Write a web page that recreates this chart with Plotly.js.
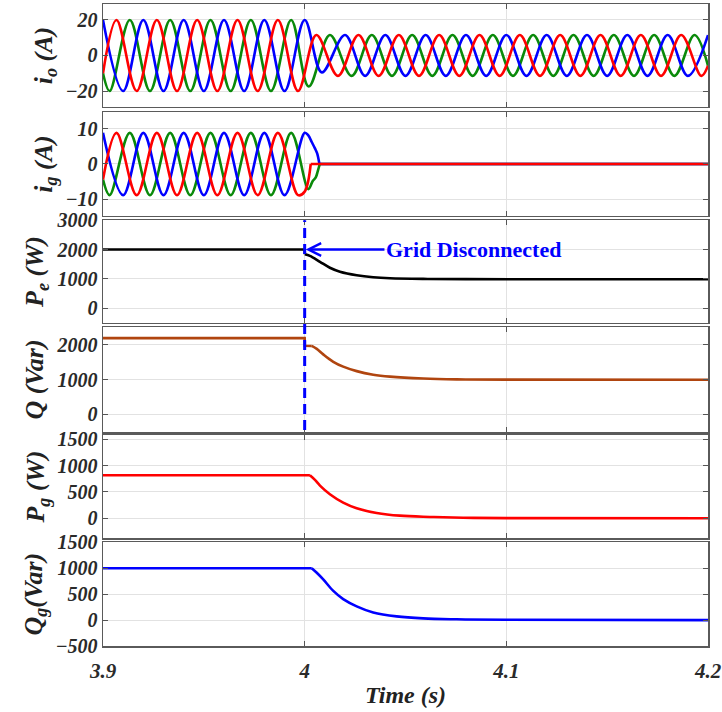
<!DOCTYPE html>
<html>
<head>
<meta charset="utf-8">
<script src="https://cdn.plot.ly/plotly-3.0.1.min.js"></script>
<style>html,body{margin:0;padding:0;background:#fff;}#chart{width:722px;height:712px;}</style>
</head>
<body>
<div id="chart"></div>
<script>
// ---------- DATA ----------
// Panel 1: inverter output currents i_o (extrema of each phase)
const ioBlueT = [3.90,3.91,3.92,3.93,3.94,3.95,3.96,3.97,3.98,3.99,4.00,4.0085,4.02,4.03,4.04,4.05,4.06,4.07,4.08,4.09,4.10,4.11,4.12,4.13,4.14,4.15,4.16,4.17,4.18,4.19,4.20];
const ioBlueV = [20,-20,20,-20,20,-20,20,-20,20,-20,20,-9.5,11.5,-11.5,11.5,-11.5,11.5,-11.5,11.5,-11.5,11.5,-11.5,11.5,-11.5,11.5,-11.5,11.5,-11.5,11.5,-11.5,11.5];
const ioRedT = [3.9000,3.9067,3.9167,3.9267,3.9367,3.9467,3.9567,3.9667,3.9767,3.9867,3.9967,4.0058,4.0165,4.0267,4.0367,4.0467,4.0567,4.0667,4.0767,4.0867,4.0967,4.1067,4.1167,4.1267,4.1367,4.1467,4.1567,4.1667,4.1767,4.1867,4.1967,4.2000];
const ioRedV = [-10,20,-20,20,-20,20,-20,20,-20,20,-20,11.5,-11.5,11.5,-11.5,11.5,-11.5,11.5,-11.5,11.5,-11.5,11.5,-11.5,11.5,-11.5,11.5,-11.5,11.5,-11.5,11.5,-11.5,-5.75];
const ioGreenT = [3.9000,3.9033,3.9133,3.9233,3.9333,3.9433,3.9533,3.9633,3.9733,3.9833,3.9933,4.0020,4.0125,4.0233,4.0333,4.0433,4.0533,4.0633,4.0733,4.0833,4.0933,4.1033,4.1133,4.1233,4.1333,4.1433,4.1533,4.1633,4.1733,4.1833,4.1933,4.2000];
const ioGreenV = [-10,-20,20,-20,20,-20,20,-20,20,-20,20,-17.5,11.5,-11.5,11.5,-11.5,11.5,-11.5,11.5,-11.5,11.5,-11.5,11.5,-11.5,11.5,-11.5,11.5,-11.5,11.5,-11.5,11.5,-5.75];

// Panel 2: grid currents i_g
const igBlueT = [3.90,3.91,3.92,3.93,3.94,3.95,3.96,3.97,3.98,3.99,4.00,4.0018,4.0035,4.0051,4.0062,4.0073];
const igBlueV = [8.8,-8.8,8.8,-8.8,8.8,-8.8,8.8,-8.8,8.8,-8.8,8.8,8.1,6.2,4.4,3.0,0];
const igRedT = [3.9000,3.9067,3.9167,3.9267,3.9367,3.9467,3.9567,3.9667,3.9767,3.9867,3.9967,4.0000,4.0030];
const igRedV = [-4.4,8.8,-8.8,8.8,-8.8,8.8,-8.8,8.8,-8.8,8.8,-8.8,-7.8,0];
const igGreenT = [3.9000,3.9033,3.9133,3.9233,3.9333,3.9433,3.9533,3.9633,3.9733,3.9833,3.9933,4.0018,4.0040,4.0055,4.0065,4.0075];
const igGreenV = [-4.4,-8.8,8.8,-8.8,8.8,-8.8,8.8,-8.8,8.8,-8.8,8.8,-7.1,-4.8,-3.8,-2.0,0];
const igBlueTailT = [4.0073,4.2];  const igBlueTailV = [0,0];
const igGreenTailT = [4.0075,4.2]; const igGreenTailV = [0,0];
const igRedTailT = [4.0030,4.2];   const igRedTailV = [0,0];

// Panel 3: P_e (W) — steady part with the step, then the decay
const peFlatT = [3.90,4.00,4.0001];
const peFlatV = [2000,2000,1841];
const peDecayT = [4.0001,4.0026,4.0076,4.0125,4.0175,4.0258,4.0340,4.0423,4.0588,4.0800,4.1200,4.2000];
const peDecayV = [1841,1784,1581,1378,1243,1122,1054,1020,997,988,985,985];

// Panel 4: Q (Var)
const qFlatT = [3.90,4.00,4.0001,4.0035];
const qFlatV = [2190,2190,1972,1965];
const qDecayT = [4.0035,4.0060,4.0092,4.0142,4.0191,4.0258,4.0340,4.0423,4.0588,4.0754,4.1000,4.2000];
const qDecayV = [1965,1880,1722,1509,1370,1241,1139,1083,1028,1005,996,995];

// Panel 5: P_g (W)
const pgFlatT = [3.90,4.0026];
const pgFlatV = [815,815];
const pgDecayT = [4.0026,4.0051,4.0076,4.0125,4.0191,4.0258,4.0357,4.0472,4.0621,4.0786,4.1000,4.2000];
const pgDecayV = [815,728,620,456,297,190,101,49,25,10,3,0];

// Panel 6: Q_g (Var)
const qgFlatT = [3.90,4.0035];
const qgFlatV = [1000,1000];
const qgDecayT = [4.0035,4.0060,4.0092,4.0142,4.0191,4.0258,4.0340,4.0456,4.0588,4.0754,4.1000,4.2000];
const qgDecayV = [1000,912,785,563,405,265,147,71,32,15,5,0];

// Axis ticks / labels
const xTicks = [3.9, 4, 4.1, 4.2];
const xTickText = ['3.9', '4', '4.1', '4.2'];
const yTitles = ['i<sub>o</sub> (A)', 'i<sub>g</sub> (A)', 'P<sub>e</sub> (W)', 'Q (Var)', 'P<sub>g</sub> (W)', 'Q<sub>g</sub>(Var)'];
const yTicks = [[-20,0,20],[-10,0,10],[0,1000,2000,3000],[0,1000,2000],[0,500,1000,1500],[-500,0,500,1000,1500]];
const yRanges = [[-29,29],[-14.6,14.6],[-500,3000],[-500,2500],[-380,1580],[-500,1500]];
const annText = 'Grid Disconnected';
const xTitle = 'Time (s)';

// ---------- STYLE ----------
const FF = '"Liberation Serif", "Times New Roman", serif';
const BLUE = '#0000ff', RED = '#ff0000', GREEN = '#0a8a0a', BROWN = '#b0450f';
const LW = 2.6;
const domains = [[0.8396,1],[0.6703,0.8313],[0.5036,0.6631],[0.3338,0.4964],[0.1678,0.3287],[0,0.1615]];

function tr(x, y, color, ax, shape) {
  return {x: x, y: y, type: 'scatter', mode: 'lines',
    line: {color: color, width: LW, shape: shape || 'linear', smoothing: 1},
    xaxis: 'x' + (ax === 1 ? '' : ax), yaxis: 'y' + (ax === 1 ? '' : ax),
    hoverinfo: 'skip', showlegend: false};
}

const data = [
  tr(ioGreenT, ioGreenV, GREEN, 1, 'spline'),
  tr(ioBlueT, ioBlueV, BLUE, 1, 'spline'),
  tr(ioRedT, ioRedV, RED, 1, 'spline'),
  tr(igGreenTailT, igGreenTailV, GREEN, 2),
  tr(igBlueTailT, igBlueTailV, BLUE, 2),
  tr(igGreenT, igGreenV, GREEN, 2, 'spline'),
  tr(igBlueT, igBlueV, BLUE, 2, 'spline'),
  tr(igRedT, igRedV, RED, 2, 'spline'),
  tr(igRedTailT, igRedTailV, RED, 2),
  tr(peFlatT, peFlatV, '#000000', 3),
  tr(peDecayT, peDecayV, '#000000', 3, 'spline'),
  tr(qFlatT, qFlatV, BROWN, 4),
  tr(qDecayT, qDecayV, BROWN, 4, 'spline'),
  tr(pgFlatT, pgFlatV, RED, 5),
  tr(pgDecayT, pgDecayV, RED, 5, 'spline'),
  tr(qgFlatT, qgFlatV, BLUE, 6),
  tr(qgDecayT, qgDecayV, BLUE, 6, 'spline')
];

const layout = {
  width: 722, height: 712,
  margin: {l: 103, r: 14, t: 4, b: 66},
  paper_bgcolor: '#ffffff', plot_bgcolor: '#ffffff',
  showlegend: false,
  font: {family: FF, color: '#222'},
  shapes: [{type: 'line', xref: 'x3', yref: 'paper', x0: 4.0, x1: 4.0, y0: 0.3364, y1: 0.6631,
            line: {color: BLUE, width: 3, dash: '10px,6px'}, layer: 'above'}],
  annotations: [{xref: 'x3', yref: 'y3', x: 4.0, y: 2000, axref: 'x3', ayref: 'y3', ax: 4.0837, ay: 2000,
                 text: annText, showarrow: true, arrowhead: 5, arrowsize: 1, arrowwidth: 2.5, arrowcolor: BLUE,
                 standoff: 1, startstandoff: 0,
                 font: {family: FF, size: 22, color: BLUE, weight: 'bold'}}]
};

for (let i = 1; i <= 6; i++) {
  const s = i === 1 ? '' : String(i);
  layout['xaxis' + s] = {
    domain: [0, 1], anchor: 'y' + s, range: [3.9, 4.2],
    tickvals: xTicks, ticktext: xTickText, showticklabels: i === 6,
    ticks: 'inside', ticklen: 5, tickcolor: '#555', tickwidth: 1,
    showline: true, mirror: 'ticks', linecolor: '#5a5a5a', linewidth: 1.5,
    showgrid: true, gridcolor: '#e2e2e2', gridwidth: 1, zeroline: false,
    tickfont: {family: FF, size: 21, color: '#2a2a2a', weight: 'bold', style: 'italic'},
    ticklabeloverflow: 'allow',
    ticklabelstandoff: 5
  };
  if (i > 1) layout['xaxis' + s].matches = 'x';
  if (i === 6) layout['xaxis' + s].title = {text: xTitle, standoff: 4,
      font: {family: FF, size: 24, color: '#222', weight: 'bold', style: 'italic'}};
  layout['yaxis' + s] = {
    domain: domains[i - 1], anchor: 'x' + s, range: yRanges[i - 1],
    tickvals: yTicks[i - 1], ticks: 'inside', ticklen: 5, tickcolor: '#555', tickwidth: 1,
    showline: true, mirror: 'ticks', linecolor: '#5a5a5a', linewidth: 1.5,
    showgrid: true, gridcolor: '#e2e2e2', gridwidth: 1, zeroline: false,
    tickfont: {family: FF, size: 20, color: '#2a2a2a', weight: 'bold', style: 'italic'},
    title: {text: yTitles[i - 1], standoff: 5,
            font: {family: FF, size: 26, color: '#222', weight: 'bold', style: 'italic'}}
  };
}

Plotly.newPlot('chart', data, layout, {staticPlot: true, displayModeBar: false});
</script>
</body>
</html>
